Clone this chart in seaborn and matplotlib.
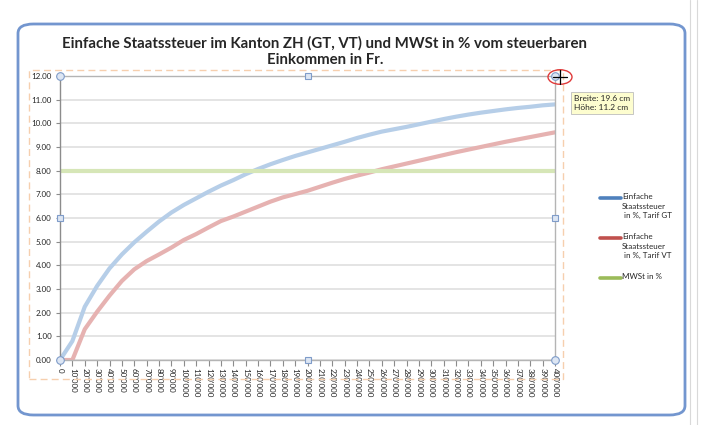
import numpy as np
import pandas as pd
import seaborn as sns
import matplotlib.pyplot as plt
from matplotlib.lines import Line2D
from matplotlib.patches import FancyBboxPatch, Rectangle, Circle

# Kategorien (steuerbares Einkommen in Fr.)
einkommen_labels = ["0", "10'000", "20'000", "30'000", "40'000", "50'000", "60'000", "70'000",
                    "80'000", "90'000", "100'000", "110'000", "120'000", "130'000", "140'000",
                    "150'000", "160'000", "170'000", "180'000", "190'000", "200'000", "210'000",
                    "220'000", "230'000", "240'000", "250'000", "260'000", "270'000", "280'000",
                    "290'000", "300'000", "310'000", "320'000", "330'000", "340'000", "350'000",
                    "360'000", "370'000", "380'000", "390'000", "400'000"]

# Einfache Staatssteuer in %, Tarif GT
tarif_gt = [0.0, 0.8, 2.25, 3.13, 3.87, 4.46, 4.97, 5.42, 5.85, 6.23, 6.55, 6.83, 7.11, 7.37,
            7.60, 7.85, 8.07, 8.27, 8.45, 8.62, 8.77, 8.92, 9.07, 9.22, 9.38, 9.52, 9.65,
            9.75, 9.85, 9.96, 10.07, 10.18, 10.28, 10.37, 10.45, 10.52, 10.59, 10.65, 10.70,
            10.76, 10.80]

# Einfache Staatssteuer in %, Tarif VT
tarif_vt = [0.0, 0.0, 1.30, 2.04, 2.72, 3.34, 3.83, 4.18, 4.46, 4.75, 5.07, 5.32, 5.60, 5.87,
            6.06, 6.27, 6.48, 6.69, 6.87, 7.01, 7.15, 7.32, 7.49, 7.65, 7.79, 7.92, 8.06,
            8.18, 8.30, 8.42, 8.54, 8.66, 8.78, 8.89, 9.00, 9.11, 9.22, 9.32, 9.42, 9.52,
            9.62]

# MWSt in %
mwst = [8.0, 8.0, 8.0, 8.0, 8.0, 8.0, 8.0, 8.0, 8.0, 8.0, 8.0, 8.0, 8.0, 8.0,
        8.0, 8.0, 8.0, 8.0, 8.0, 8.0, 8.0, 8.0, 8.0, 8.0, 8.0, 8.0, 8.0,
        8.0, 8.0, 8.0, 8.0, 8.0, 8.0, 8.0, 8.0, 8.0, 8.0, 8.0, 8.0, 8.0,
        8.0]

einkommen = [int(s.replace("'", "")) for s in einkommen_labels]

df = pd.DataFrame({
    "Einkommen": einkommen * 3,
    "Wert": tarif_gt + tarif_vt + mwst,
    "Serie": ["GT"] * len(einkommen) + ["VT"] * len(einkommen) + ["MWSt"] * len(einkommen),
})

# blasse Linien (Diagramm ist im Bearbeitungsmodus) und kräftige Legendenfarben
farben_blass = {"GT": "#b6cee8", "VT": "#e6b2b1", "MWSt": "#d6e6b7"}
farben_legende = {"GT": "#4f81bd", "VT": "#c0504d", "MWSt": "#9bbb59"}

sns.set_theme(style="white")
plt.rcParams["font.family"] = ["Lato", "DejaVu Sans"]

W, H = 702, 425
fig = plt.figure(figsize=(W / 100, H / 100), dpi=100)
fig.patch.set_facecolor("white")

def px(x, y):
    return (x / W, 1 - y / H)

# Excel-Rahmen um das Diagramm
rahmen = FancyBboxPatch(px(18, 415), (685 - 18) / W, (415 - 24) / H,
                        boxstyle="round,pad=0,rounding_size=0.022",
                        transform=fig.transFigure, facecolor="white",
                        edgecolor="#7396cf", linewidth=2.0, zorder=0)
fig.add_artist(rahmen)
for xx in [690, 697]:
    fig.add_artist(Line2D([xx / W, xx / W], [0, 1], color="#d9d9d9", lw=0.8, zorder=0))

# gestrichelte Auswahl um den Zeichnungsbereich
fig.add_artist(Rectangle(px(29, 379), (563 - 29) / W, (379 - 70) / H, transform=fig.transFigure,
                         fill=False, edgecolor="#f6cfae", linestyle=(0, (5, 3)), lw=1, zorder=1))

ax = fig.add_axes([60 / W, 1 - 360 / H, (555 - 60) / W, (360 - 76) / H])
ax.set_facecolor("white")

sns.lineplot(data=df, x="Einkommen", y="Wert", hue="Serie", palette=farben_blass,
             hue_order=["GT", "VT", "MWSt"], linewidth=3, legend=False, ax=ax,
             solid_capstyle="round")

ax.set_xlim(einkommen[0], einkommen[-1])
ax.set_ylim(0, 12)
ax.set_yticks(np.arange(0, 13, 1))
ax.set_yticklabels([f"{v:.2f}" for v in np.arange(0, 13, 1)], fontsize=5.8)
ax.set_xticks(einkommen)
ax.set_xticklabels(einkommen_labels, rotation=-90, fontsize=5.8)
ax.set_xlabel("")
ax.set_ylabel("")
ax.yaxis.grid(True, color="#dcdcdc", lw=1.1)
ax.xaxis.grid(False)
ax.tick_params(axis="x", length=4, width=0.8, color="#8c8c8c", pad=2, direction="out", bottom=True)
ax.tick_params(axis="y", length=3, width=0.8, color="#8c8c8c", pad=3, direction="out", left=True)
for s in ax.spines.values():
    s.set_color("#b4b4b4")
    s.set_linewidth(1.0)
ax.spines["left"].set_color("#8c8c8c")

# Auswahl-Griffe am Zeichnungsbereich
ax.plot([0, 1, 0, 1], [0, 0, 1, 1], linestyle="none", marker="o", markersize=5.5,
        markerfacecolor="#dde6f3", markeredgecolor="#7f9cc9", markeredgewidth=0.8,
        transform=ax.transAxes, clip_on=False, zorder=5)
ax.plot([0.5, 0.5, 0, 1], [0, 1, 0.5, 0.5], linestyle="none", marker="s", markersize=5,
        markerfacecolor="#dde6f3", markeredgecolor="#7f9cc9", markeredgewidth=0.8,
        transform=ax.transAxes, clip_on=False, zorder=5)

# Titel
fig.text(325 / W, 1 - 36 / H,
         "Einfache Staatssteuer im Kanton ZH (GT, VT) und MWSt in % vom steuerbaren\nEinkommen in Fr.",
         ha="center", va="top", fontsize=10.8, fontweight="bold", linespacing=1.25)

# Legende
legende = [("GT", "Einfache\nStaatssteuer\n in %, Tarif GT", 198),
           ("VT", "Einfache\nStaatssteuer\n in %, Tarif VT", 238),
           ("MWSt", "MWSt in %", 278)]
for key, text, ly in legende:
    fig.add_artist(Line2D([600 / W, 621 / W], [1 - ly / H] * 2, color=farben_legende[key],
                          lw=2.6, solid_capstyle="round"))
    fig.text(622 / W, 1 - (ly - 5) / H, text, ha="left", va="top", fontsize=5.8,
             linespacing=1.45)

# Tooltip mit der Grösse
fig.text(574 / W, 1 - 103 / H, "Breite: 19.6 cm\nHöhe: 11.2 cm", ha="left", va="center",
         fontsize=6, linespacing=1.3,
         bbox=dict(boxstyle="square,pad=0.35", facecolor="#fdfdcf", edgecolor="#bdbdbd", lw=0.6))

# Cursor
fig.add_artist(Circle(px(560, 77), 12 / W, transform=fig.transFigure, fill=False,
                      edgecolor="#e03a3a", lw=1.0))
fig.add_artist(Line2D([553 / W, 567 / W], [1 - 77 / H] * 2, color="black", lw=0.9))
fig.add_artist(Line2D([560 / W, 560 / W], [1 - 70 / H, 1 - 84 / H], color="black", lw=0.9))

fig.savefig("out.png", dpi=100)
